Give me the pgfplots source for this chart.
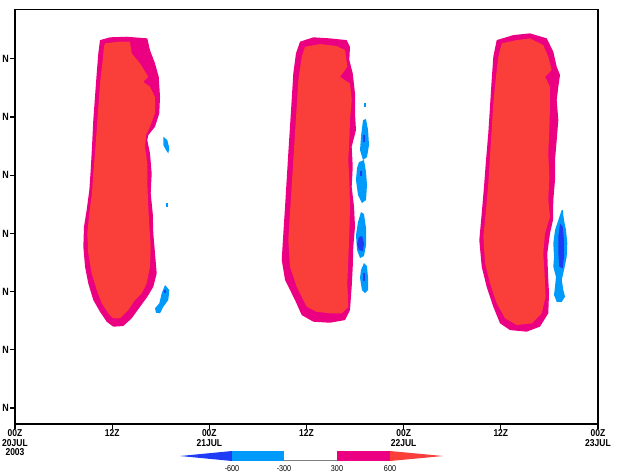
\documentclass[border=0pt]{standalone}
\usepackage{pgfplots}
\pgfplotsset{compat=1.18}
\usepackage{fontspec}
\setmainfont{Liberation Sans}
\newfontfamily\keyfont[FakeStretch=0.85]{Liberation Sans}

% shading levels
\definecolor{shRed}{RGB}{250,62,58}
\definecolor{shMag}{RGB}{235,0,130}
\definecolor{shLBlue}{RGB}{0,155,250}
\definecolor{shDBlue}{RGB}{30,60,245}

\begin{document}
\begin{tikzpicture}
\begin{axis}[
  name=ax,
  scale only axis,
  width=583pt, height=414.5pt,
  xmin=0, xmax=72, ymin=18.63, ymax=54.24,
  xtick={0,12,...,72},
  xticklabels={{00Z\\20JUL\\2003},12Z,{00Z\\21JUL},12Z,{00Z\\22JUL},12Z,{00Z\\23JUL}},
  ytick={20,25,...,50},
  yticklabels={N,N,N,N,N,N,N},
  tick align=outside, tick pos=left,
  major tick length=5pt,
  axis line style={line width=1.3pt},
  every tick/.style={black, line width=1.2pt},
  xticklabel style={align=center, inner sep=0.5pt,
    font=\keyfont\bfseries\fontsize{10}{9.6}\selectfont},
  yticklabel style={inner sep=1pt,
    font=\keyfont\bfseries\fontsize{10.5}{10}\selectfont},
]
% ---------------- day 1 ----------------
\addplot[fill=shMag, draw=none] coordinates {
 (10.50,51.61) (11.73,51.85) (13.79,51.90) (16.34,51.76) (16.67,50.75)
 (17.29,49.61) (17.75,48.46) (17.91,46.74) (17.82,45.32) (17.29,44.17)
 (16.46,43.45) (16.34,43.02) (16.67,41.88) (16.88,40.16) (16.76,38.45)
 (17.01,36.73) (17.08,35.01) (17.29,33.29) (17.50,31.57) (17.08,30.42)
 (16.34,29.56) (15.44,28.70) (14.41,27.71) (13.38,27.05) (12.14,26.99)
 (11.32,27.42) (10.50,28.27) (9.67,29.28) (9.05,30.71) (8.65,32.14)
 (8.44,33.86) (8.52,35.58) (8.85,37.01) (9.18,38.73) (9.35,40.45)
 (9.51,42.45) (9.67,44.74) (9.88,46.74) (10.09,48.75) (10.29,50.47)
} --cycle;
\addplot[fill=shRed, draw=none] coordinates {
 (11.12,51.33) (12.76,51.47) (14.20,51.47) (14.41,50.47) (15.44,49.61)
 (16.46,48.46) (15.85,48.03) (16.67,47.60) (17.29,46.74) (17.29,45.32)
 (16.67,44.17) (16.18,43.45) (16.06,42.45) (16.34,41.02) (16.34,39.30)
 (16.46,37.29) (16.59,35.58) (16.76,33.86) (16.67,32.14) (16.26,30.71)
 (15.65,29.85) (14.82,29.28) (13.99,28.42) (12.97,27.71) (12.14,27.71)
 (11.52,28.14) (10.71,29.00) (10.09,30.14) (9.47,31.57) (9.05,33.29)
 (8.93,35.01) (9.18,36.73) (9.51,38.45) (9.67,40.16) (9.88,41.88)
 (10.09,43.88) (10.29,45.88) (10.50,47.89) (10.83,49.90) (10.99,51.04)
} --cycle;
\addplot[fill=shLBlue, draw=none] coordinates {
 (18.32,43.31) (18.81,43.02) (19.06,42.31) (18.93,41.88) (18.65,42.16) (18.32,42.59)
} --cycle;
\addplot[fill=shLBlue, draw=none] coordinates {
 (18.60,37.60) (18.90,37.60) (18.90,37.30) (18.60,37.30)
} --cycle;
\addplot[fill=shLBlue, draw=none] coordinates {
 (18.53,30.57) (19.06,30.14) (18.93,29.28) (18.32,28.70) (17.91,28.14)
 (17.41,28.19) (17.29,28.57) (17.82,29.00) (18.12,29.86)
} --cycle;
\addplot[fill=shDBlue, draw=none] coordinates {
 (18.45,30.10) (18.65,30.10) (18.65,29.90) (18.45,29.90)
} --cycle;
% ---------------- day 2 ----------------
\addplot[fill=shMag, draw=none] coordinates {
 (35.20,51.47) (36.84,51.85) (38.90,51.76) (40.96,51.61) (41.37,51.04)
 (41.29,49.90) (41.71,48.75) (41.99,47.04) (41.99,45.32) (42.11,43.88)
 (41.58,42.45) (41.71,40.73) (41.58,39.01) (41.87,37.29) (41.99,35.58)
 (41.78,33.86) (41.71,32.14) (41.58,30.42) (41.37,28.42) (40.76,27.56)
 (38.90,27.33) (36.84,27.42) (35.41,27.99) (34.58,29.28) (33.35,31.00)
 (32.94,32.72) (33.14,35.01) (33.35,37.29) (33.55,39.59) (33.75,41.88)
 (33.96,44.17) (34.17,46.46) (34.37,48.75) (34.70,50.47)
} --cycle;
\addplot[fill=shRed, draw=none] coordinates {
 (35.82,51.04) (37.67,51.27) (39.73,51.10) (40.76,50.75) (41.04,49.32)
 (40.14,48.46) (41.37,47.89) (41.58,46.46) (41.37,44.74) (41.29,43.02)
 (41.16,41.31) (41.29,39.59) (41.37,37.29) (41.29,35.01) (41.16,32.72)
 (41.04,30.71) (41.16,28.70) (40.35,28.14) (38.90,28.14) (37.26,28.27)
 (36.02,28.70) (34.79,30.42) (33.96,32.14) (33.75,34.43) (33.96,36.73)
 (34.17,39.01) (34.37,41.31) (34.58,43.60) (34.79,45.88) (34.99,48.18)
 (35.41,50.18)
} --cycle;
\addplot[fill=shLBlue, draw=none] coordinates {
 (43.10,46.20) (43.35,46.20) (43.35,45.86) (43.10,45.86)
} --cycle;
\addplot[fill=shLBlue, draw=none] coordinates {
 (42.98,44.74) (43.35,44.83) (43.60,43.88) (43.72,42.59) (43.47,41.56)
 (42.98,41.31) (42.61,42.16) (42.75,43.45)
} --cycle;
\addplot[fill=shLBlue, draw=none] coordinates {
 (42.48,41.13) (43.10,41.31) (43.35,40.28) (43.47,39.16) (43.35,37.87)
 (42.85,37.61) (42.36,38.30) (42.11,39.59) (42.24,40.62)
} --cycle;
\addplot[fill=shLBlue, draw=none] coordinates {
 (42.73,36.84) (43.10,36.67) (43.35,35.46) (43.35,34.00) (43.10,33.06)
 (42.61,32.89) (42.24,33.57) (42.11,34.86) (42.36,35.98)
} --cycle;
\addplot[fill=shLBlue, draw=none] coordinates {
 (43.10,32.46) (43.47,32.20) (43.60,31.17) (43.60,30.14) (43.23,29.88)
 (42.85,30.14) (42.61,31.17) (42.73,31.86)
} --cycle;
\addplot[fill=shDBlue, draw=none] coordinates {
 (42.98,43.45) (43.23,43.45) (43.23,42.85) (42.98,42.85)
} --cycle;
\addplot[fill=shDBlue, draw=none] coordinates {
 (42.61,40.36) (42.85,40.36) (42.85,39.93) (42.61,39.93)
} --cycle;
\addplot[fill=shDBlue, draw=none] coordinates {
 (42.48,34.69) (42.85,34.78) (43.10,34.18) (42.98,33.49) (42.48,33.57) (42.24,34.09)
} --cycle;
\addplot[fill=shDBlue, draw=none] coordinates {
 (42.98,31.60) (43.23,31.60) (43.23,30.91) (42.98,30.91)
} --cycle;
% ---------------- day 3 ----------------
\addplot[fill=shMag, draw=none] coordinates {
 (59.49,51.61) (61.54,52.04) (63.60,52.19) (65.67,51.76) (66.48,50.61)
 (66.90,49.32) (67.31,48.61) (67.10,47.60) (66.90,46.46) (67.10,44.74)
 (66.90,43.02) (66.69,41.31) (66.69,39.59) (66.48,37.87) (66.44,36.15)
 (66.07,35.01) (65.74,33.29) (65.82,31.57) (65.95,29.86) (65.86,28.14)
 (64.84,27.00) (63.19,26.56) (61.13,26.70) (59.90,27.28) (59.07,28.70)
 (58.25,30.42) (57.64,32.14) (57.34,34.43) (57.64,36.73) (57.92,39.01)
 (58.17,41.31) (58.45,43.60) (58.66,45.88) (58.87,48.18) (59.07,50.18)
} --cycle;
\addplot[fill=shRed, draw=none] coordinates {
 (60.11,51.33) (61.96,51.61) (63.60,51.76) (65.24,51.18) (65.86,50.18)
 (66.28,49.04) (65.46,48.46) (66.07,47.60) (66.07,45.88) (65.99,43.88)
 (65.86,41.88) (65.99,39.87) (65.86,37.87) (66.07,36.44) (65.46,35.01)
 (65.24,33.29) (65.40,31.57) (65.53,29.56) (65.05,28.14) (63.81,27.28)
 (61.96,27.13) (60.52,27.71) (59.49,29.00) (58.66,30.71) (58.05,32.43)
 (57.84,34.72) (58.17,37.01) (58.45,39.30) (58.66,41.59) (58.87,43.88)
 (59.07,46.18) (59.40,48.46) (59.69,50.18)
} --cycle;
\addplot[fill=shLBlue, draw=none] coordinates {
 (67.52,37.01) (67.10,36.15) (66.69,35.29) (66.48,34.15) (66.57,33.00)
 (66.48,32.14) (66.81,31.28) (66.69,30.42) (66.57,29.71) (66.90,29.13)
 (67.52,29.13) (67.93,29.56) (67.72,30.14) (67.52,31.00) (67.80,31.86)
 (68.13,33.00) (68.21,34.15) (68.05,35.29) (67.80,36.15) (67.64,37.01)
} --cycle;
\addplot[fill=shDBlue, draw=none] coordinates {
 (67.31,35.87) (67.10,34.72) (67.10,33.29) (67.22,32.14) (67.64,32.00)
 (67.80,33.00) (67.80,34.43) (67.64,35.57)
} --cycle;
\end{axis}

% colour key
\begin{scope}[shift={(ax.south west)}, x=1pt, y=1pt]
  \fill[shDBlue] (165,-32) -- (217,-27) -- (217,-37) -- cycle;
  \fill[shLBlue] (217,-27) rectangle (269,-37);
  \draw[gray, line width=0.8pt] (269,-36.6) -- (322,-36.6);
  \fill[shMag] (322,-27) rectangle (375,-37);
  \fill[shRed] (375,-27) -- (428,-32) -- (375,-37) -- cycle;
  \begin{scope}[every node/.style={font=\keyfont\fontsize{8.5}{8.5}\selectfont, inner sep=0pt}]
    \node at (217,-44.5) {-600};
    \node at (269,-44.5) {-300};
    \node at (322,-44.5) {300};
    \node at (375,-44.5) {600};
  \end{scope}
\end{scope}

\pgfresetboundingbox
\path ([shift={(-15pt,-49pt)}]ax.south west) rectangle ([shift={(39pt,9.5pt)}]ax.north east);
\end{tikzpicture}
\end{document}
